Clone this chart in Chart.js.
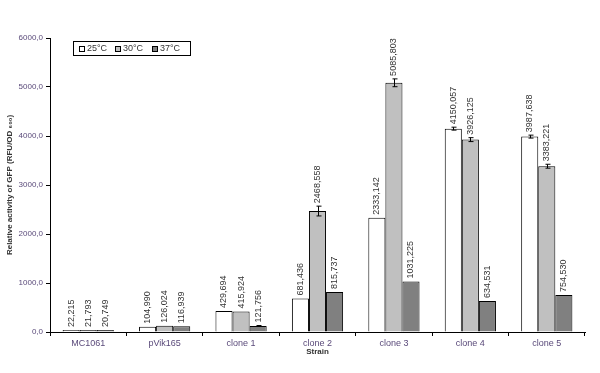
<!DOCTYPE html>
<html><head><meta charset="utf-8">
<script src="https://cdn.jsdelivr.net/npm/chart.js@4"></script>
<style>html,body{margin:0;padding:0;background:#fff}#wrap{width:600px;height:373px}</style>
</head><body><div id="wrap"><canvas id="c" width="600" height="373"></canvas></div>
<script>
const categories = ['MC1061','pVik165','clone 1','clone 2','clone 3','clone 4','clone 5'];
const seriesNames = ['25°C','30°C','37°C'];
const v25 = [22.215, 104.990, 429.694, 681.436, 2333.142, 4150.057, 3987.638];
const v30 = [21.793, 126.024, 415.924, 2468.558, 5085.803, 3926.125, 3383.221];
const v37 = [20.749, 116.939, 121.756, 815.737, 1031.225, 634.531, 754.530];
const e25 = [0, 0, 0, 0, 0, 30, 30];
const e30 = [0, 0, 0, 100, 80, 40, 40];
const e37 = [0, 0, 10, 0, 0, 0, 0];
const yTicks = [0,1000,2000,3000,4000,5000,6000];

const FONT = 'Arial, "Liberation Sans", sans-serif';
const fmt = v => v.toFixed(3).replace('.', ',');
const fmt1 = v => v.toFixed(1).replace('.', ',');

const errPlugin = {
  id: 'errLabels',
  afterDatasetsDraw(chart) {
    const ctx = chart.ctx;
    const y = chart.scales.y;
    const errs = [e25, e30, e37];
    chart.data.datasets.forEach((ds, di) => {
      const meta = chart.getDatasetMeta(di);
      meta.data.forEach((bar, i) => {
        const v = ds.data[i], e = errs[di][i];
        let top = bar.y;
        ctx.save();
        ctx.strokeStyle = '#000'; ctx.lineWidth = 1;
        if (e > 0) {
          const yt = y.getPixelForValue(v + e), yb = y.getPixelForValue(v - e);
          const x = Math.round(bar.x) + 0.5;
          ctx.beginPath();
          ctx.moveTo(x, yt); ctx.lineTo(x, yb);
          ctx.moveTo(x - 2, yt); ctx.lineTo(x + 3, yt);
          ctx.moveTo(x - 2, yb); ctx.lineTo(x + 3, yb);
          ctx.stroke();
          top = Math.min(top, yt);
        }
        ctx.translate(bar.x, top - 3);
        ctx.rotate(-Math.PI / 2);
        ctx.fillStyle = '#333';
        ctx.font = '9px ' + FONT;
        ctx.textAlign = 'left'; ctx.textBaseline = 'middle';
        ctx.fillText(fmt(v), 0, 0);
        ctx.restore();
      });
    });
  },
  afterDraw(chart) {
    const ctx = chart.ctx;
    const ca = chart.chartArea;
    const bx = ca.left + 23, by = ca.top + 3, bw = 117, bh = 14;
    ctx.save();
    ctx.strokeStyle = '#000'; ctx.lineWidth = 1;
    ctx.strokeRect(Math.round(bx) + 0.5, Math.round(by) + 0.5, bw, bh);
    ctx.font = '9px ' + FONT;
    ctx.textBaseline = 'middle'; ctx.textAlign = 'left';
    const xs = [6, 42, 79];
    chart.data.datasets.forEach((ds, i) => {
      const sx = Math.round(bx) + xs[i], sy = Math.round(by) + 5;
      ctx.fillStyle = ds.backgroundColor;
      ctx.fillRect(sx + 0.5, sy + 0.5, 5, 5);
      ctx.strokeRect(sx + 0.5, sy + 0.5, 5, 5);
      ctx.fillStyle = '#333';
      ctx.fillText(ds.label, sx + 8, Math.round(by) + 8);
    });
    ctx.restore();
  }
};

new Chart(document.getElementById('c'), {
  type: 'bar',
  data: {
    labels: categories,
    datasets: [
      {label: seriesNames[0], data: v25, backgroundColor: '#ffffff', borderColor: '#000', borderWidth: 1},
      {label: seriesNames[1], data: v30, backgroundColor: '#c0c0c0', borderColor: '#000', borderWidth: 1},
      {label: seriesNames[2], data: v37, backgroundColor: '#808080', borderColor: '#000', borderWidth: 1}
    ]
  },
  options: {
    responsive: false, animation: false,
    layout: {padding: {left: 5, right: 15, top: 38, bottom: 16}},
    datasets: {bar: {categoryPercentage: 0.67, barPercentage: 1.0, minBarLength: 2}},
    plugins: {
      tooltip: {enabled: false},
      legend: {display: false}
    },
    scales: {
      x: {
        grid: {offset: true, drawOnChartArea: false, tickLength: 4, color: '#000'},
        border: {color: '#000'},
        ticks: {color: '#5a4a7a', font: {size: 9, family: FONT}, padding: 2, maxRotation: 0},
        title: {display: true, text: 'Strain', color: '#333', font: {size: 8, weight: 'bold', family: FONT}, padding: {top: 2, bottom: 0}},
        afterFit: s => { s.height = 25; }
      },
      y: {
        min: 0, max: 6000,
        afterBuildTicks: s => { s.ticks = yTicks.map(v => ({value: v})); },
        grid: {drawOnChartArea: false, tickLength: 4, color: '#000'},
        border: {color: '#000'},
        ticks: {color: '#5a4a7a', font: {size: 8, family: FONT}, padding: 3, callback: v => fmt1(v)},
        title: {display: true, text: 'Relative activity of GFP (RFU/OD ₆₀₀)', color: '#333', font: {size: 8, weight: 'bold', family: FONT}, padding: {top: 0, bottom: 6}},
        afterFit: s => { s.width = 45; }
      }
    }
  },
  plugins: [errPlugin]
});
</script></body></html>
